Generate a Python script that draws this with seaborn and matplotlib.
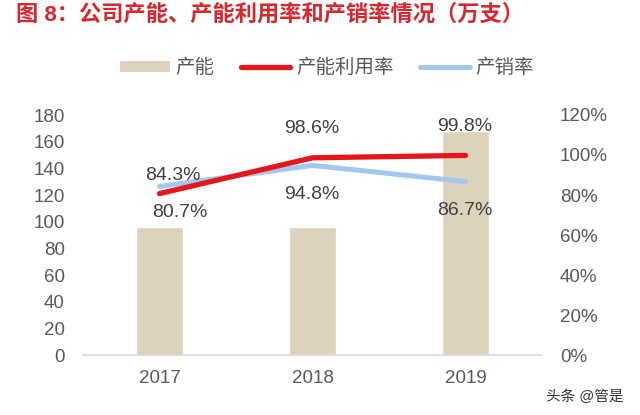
import numpy as np
import pandas as pd
import matplotlib
matplotlib.use("Agg")
import matplotlib.pyplot as plt
from matplotlib.patches import Patch
from matplotlib.lines import Line2D
from matplotlib.ticker import FuncFormatter, MultipleLocator
import seaborn as sns

# ---- data ----
years = ["2017", "2018", "2019"]
capacity = [96, 96, 168]                 # 产能（万支）
utilization = [80.7, 98.6, 99.8]         # 产能利用率 %
sell_through = [84.3, 94.8, 86.7]        # 产销率 %

title = "图 8：公司产能、产能利用率和产销率情况（万支）"
legend_labels = ["产能", "产能利用率", "产销率"]
watermark = "头条 @管是"

sns.set_theme(style="white")
plt.rcParams["font.family"] = ["Liberation Sans", "Noto Sans CJK SC", "DejaVu Sans"]

BAR_C = "#DDD3BC"
RED_C = "#E5171C"
BLUE_C = "#A3C8F0"
TXT_C = "#595959"
LBL_C = "#404040"

fig = plt.figure(figsize=(6.4, 4.15), dpi=100)
fig.patch.set_facecolor("white")
ax = fig.add_axes([83 / 640, 60 / 415, 459 / 640, 240 / 415])

df = pd.DataFrame({"year": years, "capacity": capacity})
sns.barplot(data=df, x="year", y="capacity", color=BAR_C, width=0.31,
            saturation=1, ax=ax, zorder=1)
ax.set_xlim(-0.5, len(years) - 0.5)
ax.set_ylim(0, 180)
ax.yaxis.set_major_locator(MultipleLocator(20))
ax.set_xlabel("")
ax.set_ylabel("")
for s in ["left", "right", "top"]:
    ax.spines[s].set_visible(False)
ax.spines["bottom"].set_color("#D9D9D9")
ax.spines["bottom"].set_linewidth(1.2)
ax.tick_params(axis="both", length=0, labelsize=13.5, colors=TXT_C)
ax.tick_params(axis="y", pad=13)
ax.tick_params(axis="x", pad=11)

ax2 = ax.twinx()
xpos = np.arange(len(years))
ldf = pd.DataFrame({"x": xpos, "util": utilization, "sell": sell_through})
sns.lineplot(data=ldf, x="x", y="util", color=RED_C, linewidth=3.8, ax=ax2,
             solid_capstyle="round", zorder=3)
sns.lineplot(data=ldf, x="x", y="sell", color=BLUE_C, linewidth=3.6, ax=ax2,
             solid_capstyle="round", zorder=2)
ax2.set_ylim(0, 120)
ax2.yaxis.set_major_locator(MultipleLocator(20))
ax2.yaxis.set_major_formatter(FuncFormatter(lambda v, p: f"{v:.0f}%"))
ax2.set_xlabel("")
ax2.set_ylabel("")
for s in ["left", "right", "top", "bottom"]:
    ax2.spines[s].set_visible(False)
ax2.tick_params(axis="y", length=0, labelsize=13.5, colors=TXT_C, pad=13)
ax2.grid(False)
ax.grid(False)

# data labels (offsets in pixels)
util_off = [(20, -19), (-1, 29), (-1, 29)]
sell_off = [(13, 11), (-1, -29), (-1, -29)]
for i in range(len(years)):
    ax2.annotate(f"{utilization[i]:.1f}%", (xpos[i], utilization[i]),
                 xytext=util_off[i], textcoords="offset pixels",
                 ha="center", va="center", fontsize=14, color=LBL_C, zorder=5)
    ax2.annotate(f"{sell_through[i]:.1f}%", (xpos[i], sell_through[i]),
                 xytext=sell_off[i], textcoords="offset pixels",
                 ha="center", va="center", fontsize=14, color=LBL_C, zorder=5)

# legend
handles = [Patch(facecolor=BAR_C, edgecolor="none"),
           Line2D([], [], color=RED_C, lw=3.8, solid_capstyle="round"),
           Line2D([], [], color=BLUE_C, lw=3.6, solid_capstyle="round")]
fig.legend(handles, legend_labels, loc="center", bbox_to_anchor=(0.511, 1 - 68 / 415),
           ncol=3, frameon=False, fontsize=14, labelcolor=TXT_C,
           handlelength=2.55, handleheight=0.5, handletextpad=0.3, columnspacing=1.35)

# title
fig.text(16 / 640, 1 - 15 / 415, title, ha="left", va="center", fontsize=16,
         fontweight="bold", color="#D8262C")

# watermark
fig.text(585 / 640, 1 - 397 / 415, watermark, ha="center", va="center",
         fontsize=10.5, color="#333333")

fig.savefig("out.png", dpi=100, facecolor="white")
